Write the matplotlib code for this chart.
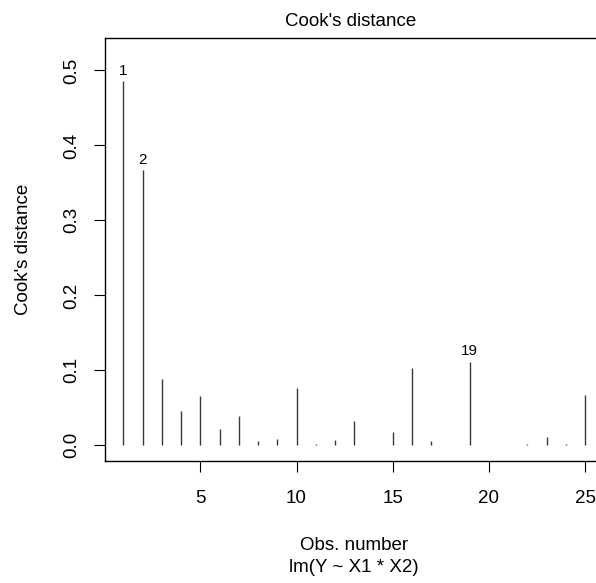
import numpy as np
import matplotlib.pyplot as plt

plt.rcParams['font.family'] = ['Liberation Sans', 'DejaVu Sans']

obs = np.arange(1, 26)
cooks = [0.486, 0.367, 0.0885, 0.046, 0.0657, 0.0214, 0.0389, 0.0058, 0.0085, 0.0764,
         0.0012, 0.0072, 0.0326, 0.0004, 0.0178, 0.1036, 0.0058, 0.0003, 0.1117, 0.0003,
         0.0006, 0.0012, 0.011, 0.0015, 0.067]
labelled = [1, 2, 19]
yticks = [0.0, 0.1, 0.2, 0.3, 0.4, 0.5]
xticks = [5, 10, 15, 20, 25]

W, H = 596, 583
fig = plt.figure(figsize=(W / 100, H / 100), dpi=100)
left, right, top, bottom = 105, 603.5, 38, 461
ax = fig.add_axes([left / W, 1 - bottom / H, (right - left) / W, (bottom - top) / H])

ax.vlines(obs, 0, cooks, color='#3a3a3a', linewidth=1.0)
for i in labelled:
    ax.text(i, cooks[i - 1] + 0.0135, str(i), ha='center', va='center', fontsize=11)

ymx = max(cooks) * 1.075
ax.set_ylim(-0.04 * ymx, ymx * 1.04)
ax.set_xlim(1 - 0.96, 25 + 0.96)
fs = 13.5
ax.set_yticks(yticks)
ax.set_yticklabels([f'{v:.1f}' for v in yticks], rotation=90, va='center', fontsize=fs)
ax.set_xticks(xticks)
ax.set_xticklabels([str(v) for v in xticks], fontsize=fs)
ax.tick_params(axis='both', direction='out', length=8, width=0.8, color='black')
ax.tick_params(axis='x', pad=13)
ax.tick_params(axis='y', pad=10)
for s in ax.spines.values():
    s.set_linewidth(1.0)
    s.set_color('black')

fig.text(351 / W, 1 - 21 / H, "Cook's distance", ha='center', va='center', fontsize=fs)
fig.text(24 / W, 1 - 249 / H, "Cook's distance", ha='center', va='center', rotation=90, fontsize=fs)
fig.text(354 / W, 1 - 545 / H, "Obs. number", ha='center', va='center', fontsize=fs)
fig.text(354 / W, 1 - 568 / H, "lm(Y ~ X1 * X2)", ha='center', va='center', fontsize=fs)

fig.savefig('out.png', dpi=100)
